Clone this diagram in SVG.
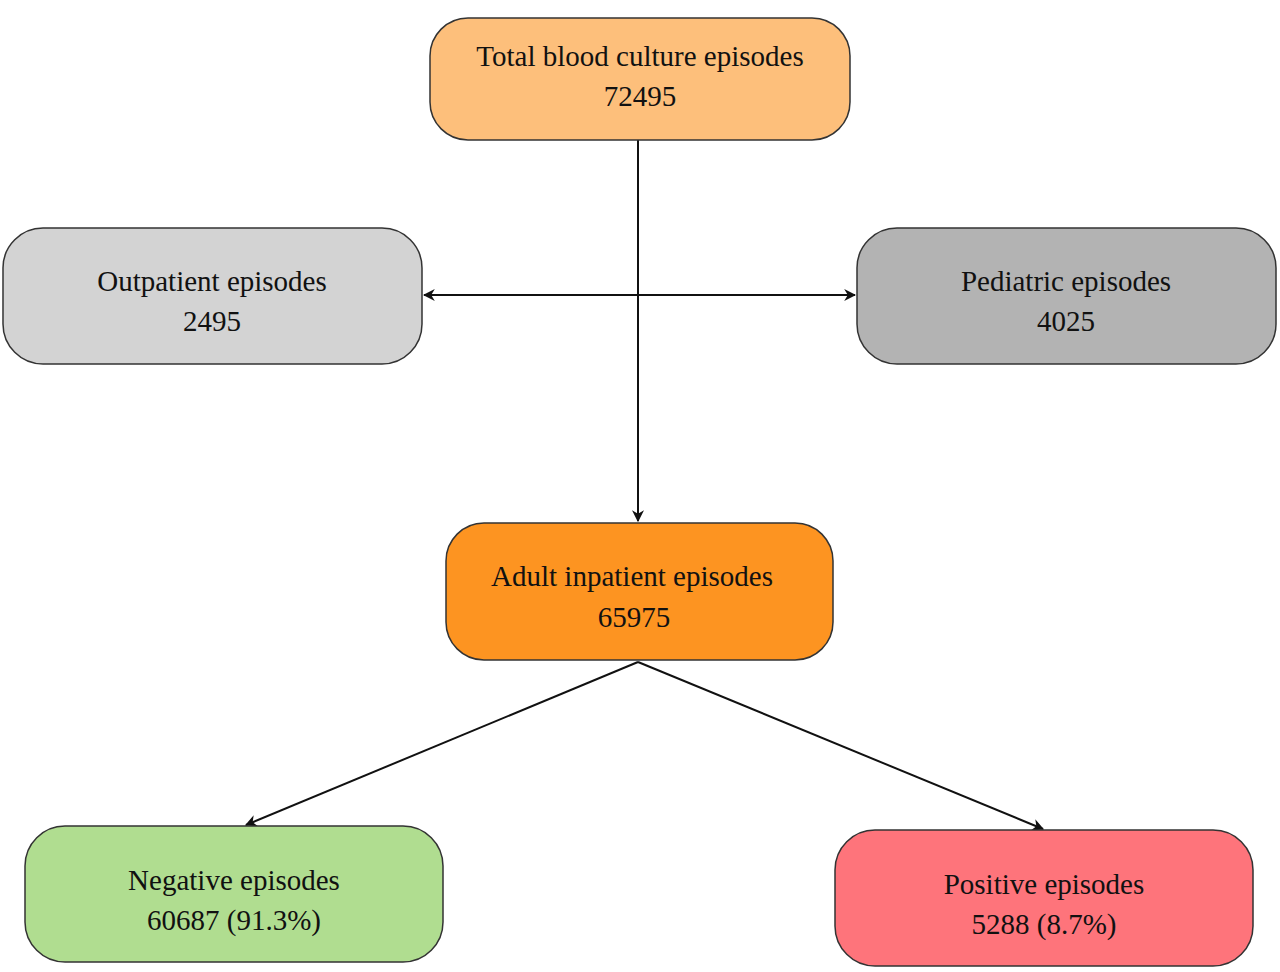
<svg xmlns="http://www.w3.org/2000/svg" width="1280" height="972" viewBox="0 0 1280 972">
<style>
.n{stroke:#333;stroke-width:1.5}
.t{font-family:"Liberation Serif",serif;font-size:29px;fill:#111;text-anchor:middle}
.c{stroke:#111;stroke-width:2;fill:none}
</style>
<defs><marker id="a" viewBox="0 0 10 10" refX="9" refY="5" markerWidth="12" markerHeight="12" markerUnits="userSpaceOnUse" orient="auto-start-reverse"><path d="M0,0L10,5L0,10L3,5Z" fill="#111"/></marker></defs>
<rect width="1280" height="972" fill="#fff"/>
<g id="connectors">
<line class="c" x1="638" y1="140" x2="638" y2="521" marker-end="url(#a)"/>
<line class="c" x1="424" y1="295" x2="855" y2="295" marker-start="url(#a)" marker-end="url(#a)"/>
<line class="c" x1="638" y1="662" x2="246" y2="825" marker-end="url(#a)"/>
<line class="c" x1="638" y1="662" x2="1043" y2="829" marker-end="url(#a)"/>
</g>
<g id="total"><rect class="n" x="430" y="18" width="420" height="122" rx="38" fill="#FDBF7B"/><text class="t" x="640" y="66">Total blood culture episodes</text><text class="t" x="640" y="106">72495</text></g>
<g id="outpatient"><rect class="n" x="3" y="228" width="419" height="136" rx="40" fill="#D3D3D3"/><text class="t" x="212" y="291">Outpatient episodes</text><text class="t" x="212" y="331">2495</text></g>
<g id="pediatric"><rect class="n" x="857" y="228" width="419" height="136" rx="40" fill="#B3B3B3"/><text class="t" x="1066" y="291">Pediatric episodes</text><text class="t" x="1066" y="331">4025</text></g>
<g id="adult"><rect class="n" x="446" y="523" width="387" height="137" rx="38" fill="#FD9421"/><text class="t" x="632" y="586">Adult inpatient episodes</text><text class="t" x="634" y="627">65975</text></g>
<g id="negative"><rect class="n" x="25" y="826" width="418" height="136" rx="40" fill="#B0DD90"/><text class="t" x="234" y="890">Negative episodes</text><text class="t" x="234" y="930">60687 (91.3%)</text></g>
<g id="positive"><rect class="n" x="835" y="830" width="418" height="136" rx="40" fill="#FE747B"/><text class="t" x="1044" y="894">Positive episodes</text><text class="t" x="1044" y="934">5288 (8.7%)</text></g>
</svg>
